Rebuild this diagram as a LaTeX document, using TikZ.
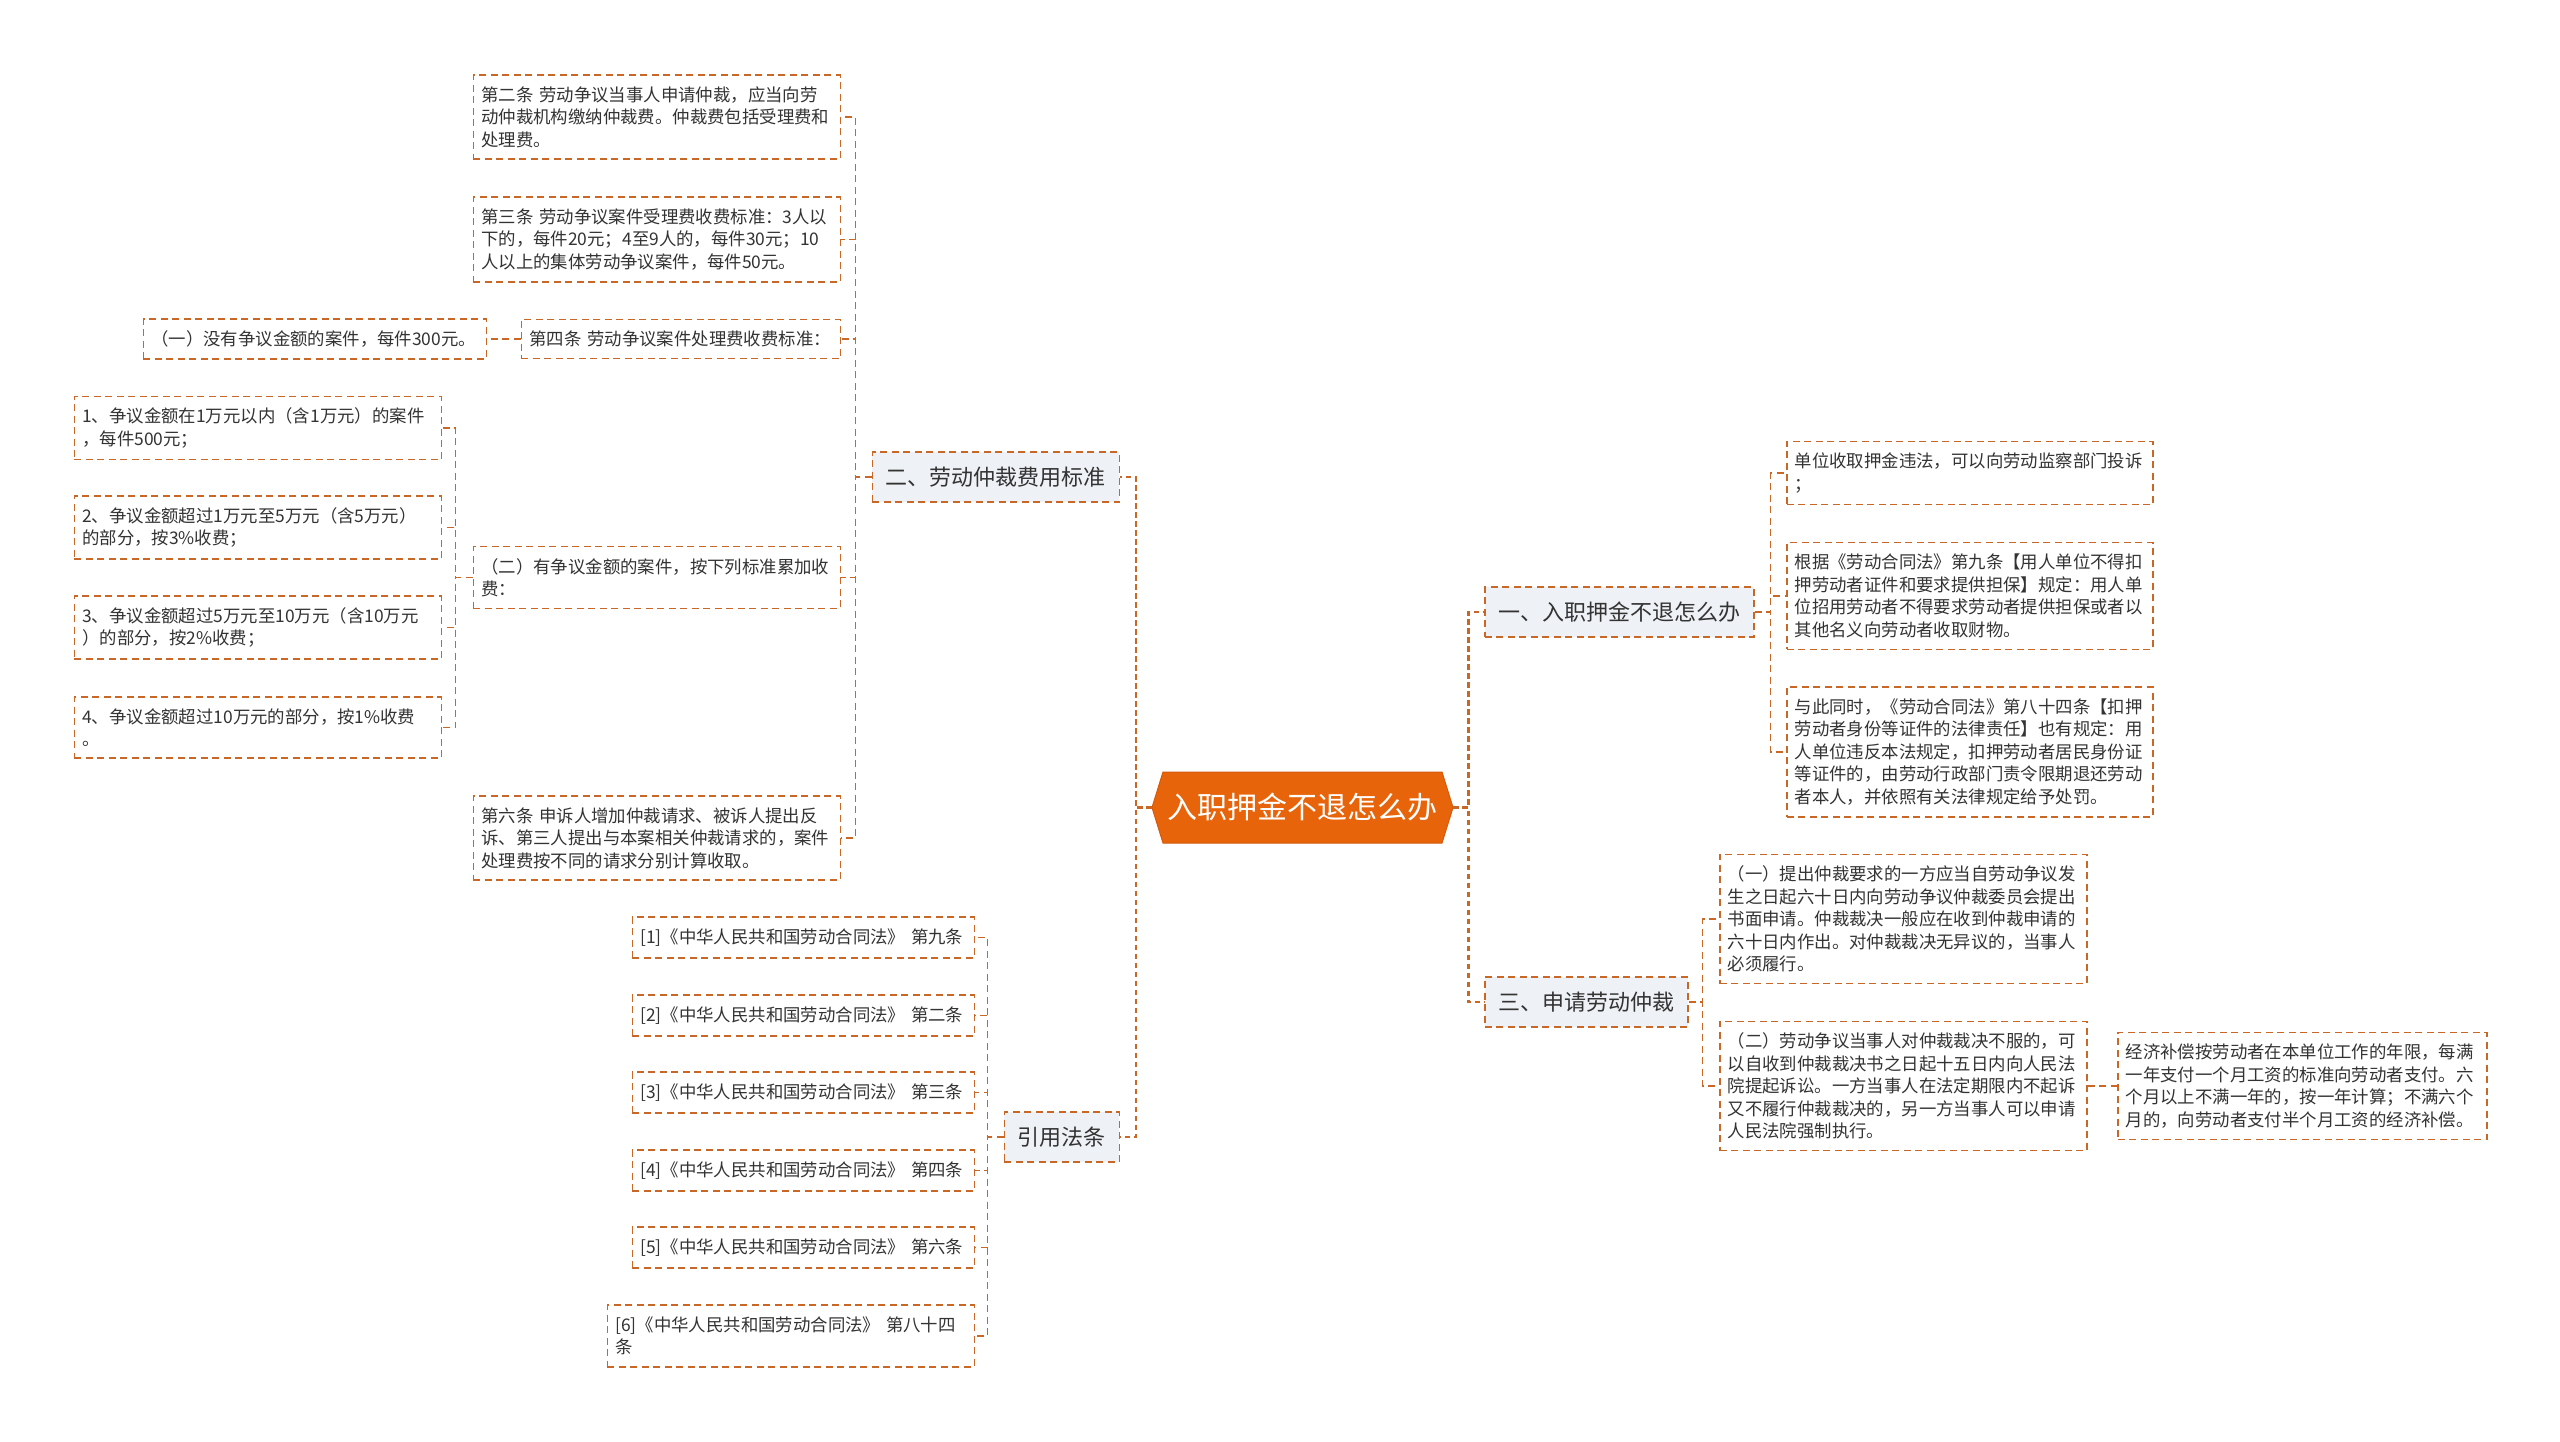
\documentclass[tikz,border=0pt]{standalone}
\usepackage{fontspec}
\setmainfont{Noto Sans CJK SC}
\definecolor{linec}{RGB}{201,104,38}
\definecolor{hubfill}{RGB}{232,100,10}
\definecolor{hubedge}{RGB}{212,90,12}
\definecolor{topicfill}{RGB}{238,241,245}
\definecolor{txtc}{RGB}{51,51,51}
\newcommand{\leaffont}{\fontsize{17.4}{22.5}\selectfont}
\newcommand{\topicfont}{\fontsize{22}{26}\selectfont}
\newcommand{\hubfont}{\fontsize{30}{36}\selectfont}

\begin{document}
\begin{tikzpicture}[x=1pt,y=-1pt]
\tikzstyle{leaf}=[draw=linec,line width=1.5pt,dash pattern=on 7pt off 4.5pt,text=txtc,font=\leaffont,align=left,inner xsep=8pt,inner ysep=11.5pt]
\tikzstyle{topic}=[draw=linec,line width=1.5pt,dash pattern=on 7pt off 4.5pt,fill=topicfill,text=txtc,font=\topicfont,inner xsep=13.5pt,inner ysep=0pt,minimum height=50pt]
\tikzstyle{conn}=[draw=linec,line width=1.5pt,dash pattern=on 7pt off 4.5pt]
\tikzstyle{trunk}=[draw=linec,line width=2.6pt,dash pattern=on 5.5pt off 3.5pt]
\useasboundingbox (0,0) rectangle (2560,1442);
\fill[white] (0,0) rectangle (2560,1442);

% centre
\filldraw[fill=hubfill,draw=hubedge,line width=1pt] (1152,807.5) -- (1163,772) -- (1442,772) -- (1453,807.5) -- (1442,843) -- (1163,843) -- cycle;
\node[text=white,font=\hubfont,minimum width=301pt,minimum height=71pt,inner sep=0] (root) at (1302.5,807.5) {入职押金不退怎么办};

% main topics
\node[topic,anchor=east] (n2) at (1120,477) {二、劳动仲裁费用标准};
\node[topic,anchor=east] (n3) at (1120,1137) {引用法条};
\node[topic,anchor=west] (n1) at (1484,612) {一、入职押金不退怎么办};
\node[topic,anchor=west] (n4) at (1484,1002) {三、申请劳动仲裁};

% fee standards
\node[leaf,text width=351pt,anchor=east] (a1) at (841,117) {第二条 劳动争议当事人申请仲裁，应当向劳\\动仲裁机构缴纳仲裁费。仲裁费包括受理费和\\处理费。};
\node[leaf,text width=351pt,anchor=east] (a2) at (841,239.5) {第三条 劳动争议案件受理费收费标准：3人以\\下的，每件20元；4至9人的，每件30元；10\\人以上的集体劳动争议案件，每件50元。};
\node[leaf,text width=303pt,anchor=east] (a3) at (841,339) {第四条 劳动争议案件处理费收费标准：};
\node[leaf,text width=351pt,anchor=east] (a4) at (841,577.5) {（二）有争议金额的案件，按下列标准累加收\\费：};
\node[leaf,text width=351pt,anchor=east] (a5) at (841,838) {第六条 申诉人增加仲裁请求、被诉人提出反\\诉、第三人提出与本案相关仲裁请求的，案件\\处理费按不同的请求分别计算收取。};
\node[leaf,text width=327pt,anchor=east] (b0) at (487,339) {（一）没有争议金额的案件，每件300元。};
\node[leaf,text width=351pt,anchor=east] (c1) at (442,428) {1、争议金额在1万元以内（含1万元）的案件\\，每件500元；};
\node[leaf,text width=351pt,anchor=east] (c2) at (442,527.5) {2、争议金额超过1万元至5万元（含5万元）\\的部分，按3\%收费；};
\node[leaf,text width=351pt,anchor=east] (c3) at (442,627.5) {3、争议金额超过5万元至10万元（含10万元\\）的部分，按2\%收费；};
\node[leaf,text width=351pt,anchor=east] (c4) at (442,727.5) {4、争议金额超过10万元的部分，按1\%收费\\。};

% cited articles
\node[leaf,text width=326pt,anchor=east] (d1) at (975,937.5) {[1]《中华人民共和国劳动合同法》 第九条};
\node[leaf,text width=326pt,anchor=east] (d2) at (975,1015.5) {[2]《中华人民共和国劳动合同法》 第二条};
\node[leaf,text width=326pt,anchor=east] (d3) at (975,1092.5) {[3]《中华人民共和国劳动合同法》 第三条};
\node[leaf,text width=326pt,anchor=east] (d4) at (975,1170.5) {[4]《中华人民共和国劳动合同法》 第四条};
\node[leaf,text width=326pt,anchor=east] (d5) at (975,1247.5) {[5]《中华人民共和国劳动合同法》 第六条};
\node[leaf,text width=351pt,anchor=east] (d6) at (975,1336) {[6]《中华人民共和国劳动合同法》 第八十四\\条};

% deposit
\node[leaf,text width=350pt,anchor=west] (e1) at (1786,473) {单位收取押金违法，可以向劳动监察部门投诉\\；};
\node[leaf,text width=350pt,anchor=west] (e2) at (1786,596) {根据《劳动合同法》第九条【用人单位不得扣\\押劳动者证件和要求提供担保】规定：用人单\\位招用劳动者不得要求劳动者提供担保或者以\\其他名义向劳动者收取财物。};
\node[leaf,text width=350pt,anchor=west] (e3) at (1786,752) {与此同时，《劳动合同法》第八十四条【扣押\\劳动者身份等证件的法律责任】也有规定：用\\人单位违反本法规定，扣押劳动者居民身份证\\等证件的，由劳动行政部门责令限期退还劳动\\者本人，并依照有关法律规定给予处罚。};

% arbitration
\node[leaf,text width=351pt,anchor=west] (f1) at (1719,919) {（一）提出仲裁要求的一方应当自劳动争议发\\生之日起六十日内向劳动争议仲裁委员会提出\\书面申请。仲裁裁决一般应在收到仲裁申请的\\六十日内作出。对仲裁裁决无异议的，当事人\\必须履行。};
\node[leaf,text width=351pt,anchor=west] (f2) at (1719,1086) {（二）劳动争议当事人对仲裁裁决不服的，可\\以自收到仲裁裁决书之日起十五日内向人民法\\院提起诉讼。一方当事人在法定期限内不起诉\\又不履行仲裁裁决的，另一方当事人可以申请\\人民法院强制执行。};
\node[leaf,text width=353pt,anchor=west] (g1) at (2117,1086) {经济补偿按劳动者在本单位工作的年限，每满\\一年支付一个月工资的标准向劳动者支付。六\\个月以上不满一年的，按一年计算；不满六个\\月的，向劳动者支付半个月工资的经济补偿。};

% connectors
\draw[trunk] (root.west) -- ++(-16,0) |- (n2.east); \draw[trunk] (root.west) -- ++(-16,0) |- (n3.east);
\draw[trunk] (root.east) -- ++(15,0) |- (n1.west); \draw[trunk] (root.east) -- ++(15,0) |- (n4.west);
\draw[conn] (n2.west) -- ++(-16,0) |- (a1.east); \draw[conn] (n2.west) -- ++(-16,0) |- (a2.east);
\draw[conn] (n2.west) -- ++(-16,0) |- (a3.east); \draw[conn] (n2.west) -- ++(-16,0) |- (a4.east);
\draw[conn] (n2.west) -- ++(-16,0) |- (a5.east);
\draw[conn] (a3.west) -- (b0.east);
\draw[conn] (a4.west) -- ++(-17,0) |- (c1.east); \draw[conn] (a4.west) -- ++(-17,0) |- (c2.east);
\draw[conn] (a4.west) -- ++(-17,0) |- (c3.east); \draw[conn] (a4.west) -- ++(-17,0) |- (c4.east);
\draw[conn] (n3.west) -- ++(-16,0) |- (d1.east); \draw[conn] (n3.west) -- ++(-16,0) |- (d2.east);
\draw[conn] (n3.west) -- ++(-16,0) |- (d3.east); \draw[conn] (n3.west) -- ++(-16,0) |- (d4.east);
\draw[conn] (n3.west) -- ++(-16,0) |- (d5.east); \draw[conn] (n3.west) -- ++(-16,0) |- (d6.east);
\draw[conn] (n1.east) -- ++(16,0) |- (e1.west); \draw[conn] (n1.east) -- ++(16,0) |- (e2.west);
\draw[conn] (n1.east) -- ++(16,0) |- (e3.west);
\draw[conn] (n4.east) -- ++(14,0) |- (f1.west); \draw[conn] (n4.east) -- ++(14,0) |- (f2.west);
\draw[conn] (f2.east) -- (g1.west);
\end{tikzpicture}
\end{document}
